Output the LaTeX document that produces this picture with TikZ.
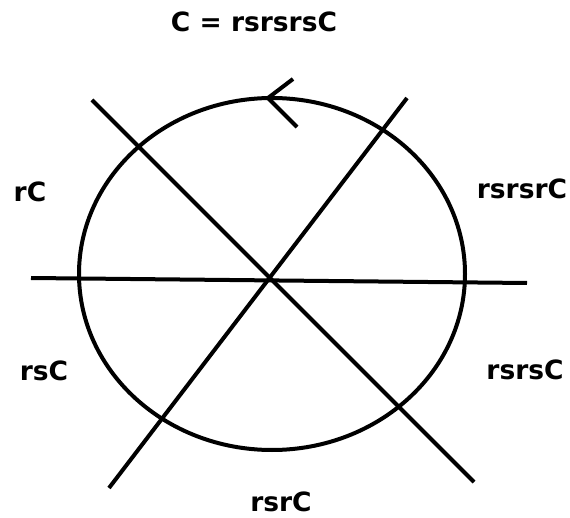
\documentclass[tikz,border=0pt]{standalone}
\usepackage{fontspec}
\setmainfont{DejaVu Sans}
\begin{document}
\begin{tikzpicture}[x=1pt, y=-1pt, line width=4pt,
    lbl/.style={font=\bfseries\fontsize{26.5}{30}\selectfont, inner sep=0pt}]
    \useasboundingbox (0,0) rectangle (570,518);

    % Circle
    \draw (272,274) ellipse [x radius=193pt, y radius=176pt];

    % Direction mark on the circle
    \coordinate (tip) at (268,98);
    \coordinate (barbup) at (293,79);
    \coordinate (barbdown) at (297,127);
    \draw (barbup) -- (tip) -- (barbdown);

    % Mirror lines through the centre
    \coordinate (hleft) at (31,278);
    \coordinate (hright) at (527,283);
    \coordinate (nwend) at (92,100);
    \coordinate (seend) at (474,482);
    \coordinate (neend) at (407,98);
    \coordinate (swend) at (109,488);
    \draw (hleft) -- (hright);
    \draw (nwend) -- (seend);
    \draw (neend) -- (swend);

    % Labels
    \node[lbl] (title) at (254,22) {C = rsrsrsC};
    \node[lbl] (rC) at (30,192) {rC};
    \node[lbl] (rsrsrC) at (522,189) {rsrsrC};
    \node[lbl] (rsC) at (44,371) {rsC};
    \node[lbl] (rsrsC) at (525,370) {rsrsC};
    \node[lbl] (rsrC) at (281,502) {rsrC};
\end{tikzpicture}
\end{document}
